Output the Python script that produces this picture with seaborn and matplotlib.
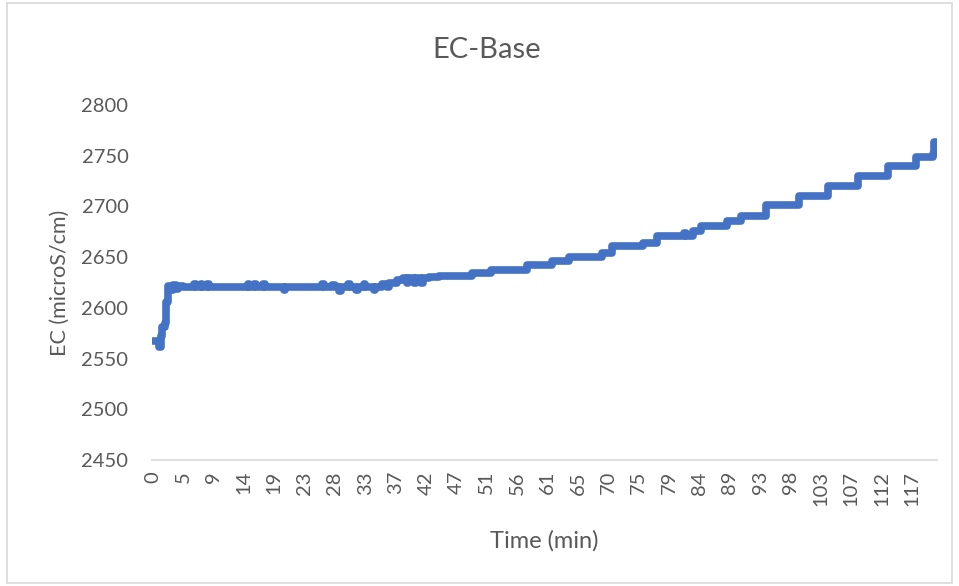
import matplotlib
matplotlib.use("Agg")
import matplotlib.pyplot as plt
import pandas as pd
import seaborn as sns
from matplotlib.patches import Rectangle

# EC logger record: time (min) at which each reading takes effect, held until the next one
time_min = [
    0.0, 0.9, 1.3, 1.5, 1.9, 2.1, 2.4, 2.8, 3.1, 3.6, 3.9, 4.6,
    6.4, 6.6, 7.4, 7.6, 8.4, 8.6, 14.6, 14.8, 15.6, 15.9, 17.0, 17.3,
    20.2, 20.4, 26.0, 26.3, 27.5, 28.0, 28.6, 28.9, 30.0, 30.3, 31.3, 31.5,
    32.5, 32.7, 34.0, 34.2, 35.2, 36.0, 36.3, 37.6, 38.4, 39.0, 39.3, 40.2,
    40.5, 41.3, 41.5, 42.5, 44.0, 49.0, 52.0, 57.5, 61.4, 64.0, 69.0, 70.6,
    75.4, 77.5, 81.6, 82.0, 83.0, 84.3, 88.2, 90.4, 94.2, 99.3, 103.8, 108.4,
    113.0, 117.2, 119.9, 120.1, 120.3, 120.4,
]
ec_us_cm = [
    2567, 2561, 2572, 2581, 2585, 2606, 2622, 2618, 2623, 2619, 2622, 2621,
    2624, 2621, 2624, 2621, 2624, 2621, 2624, 2621, 2624, 2621, 2624, 2621,
    2618, 2621, 2624, 2621, 2623, 2621, 2617, 2621, 2624, 2621, 2618, 2621,
    2624, 2621, 2618, 2621, 2624, 2621, 2625, 2627, 2629, 2625, 2629, 2625,
    2629, 2625, 2629, 2630, 2631, 2634, 2637, 2642, 2646, 2650, 2654, 2661,
    2664, 2671, 2674, 2671, 2676, 2681, 2686, 2691, 2701, 2710, 2720, 2730,
    2740, 2749, 2752, 2764, 2758, 2758,
]

# Category-axis labels: one every 28 samples (10 s sampling -> 14/3 min apart)
x_tick_labels = ["0", "5", "9", "14", "19", "23", "28", "33", "37", "42", "47",
                 "51", "56", "61", "65", "70", "75", "79", "84", "89", "93",
                 "98", "103", "107", "112", "117"]
label_step_min = 14 / 3
y_ticks = [2450, 2500, 2550, 2600, 2650, 2700, 2750, 2800]

df = pd.DataFrame({"Time (min)": time_min, "EC (microS/cm)": ec_us_cm})

sns.set_theme(style="white")
plt.rcParams["font.family"] = ["Lato", "DejaVu Sans"]

TEXT = "#595959"
LINE = "#4472C4"

W, H = 959, 586
AX_L, AX_R, AX_T, AX_B = 152, 937, 105, 460
fig = plt.figure(figsize=(W / 100, H / 100), dpi=100)
ax = fig.add_axes([AX_L / W, 1 - AX_B / H, (AX_R - AX_L) / W, (AX_B - AX_T) / H])

sns.lineplot(data=df, x="Time (min)", y="EC (microS/cm)", ax=ax,
             color=LINE, linewidth=5.5, estimator=None, sort=False,
             drawstyle="steps-post", solid_joinstyle="round",
             solid_capstyle="round")

ax.set_xlim(-0.1, 120.5)
ax.set_ylim(2450, 2800)
ax.set_yticks(y_ticks)
ax.set_yticklabels([str(v) for v in y_ticks])
ax.set_xticks([i * label_step_min for i in range(len(x_tick_labels))])
ax.set_xticklabels(x_tick_labels, rotation=90)

ax.tick_params(axis="y", length=0, pad=17, labelsize=14.5, labelcolor=TEXT)
ax.tick_params(axis="x", length=0, pad=8, labelsize=14.5, labelcolor=TEXT)

for side in ("left", "right", "top"):
    ax.spines[side].set_visible(False)
ax.spines["bottom"].set_color("#d9d9d9")
ax.spines["bottom"].set_linewidth(1.2)
ax.grid(False)

ax.set_xlabel("Time (min)", fontsize=17, color=TEXT, labelpad=17)
ax.set_ylabel("EC (microS/cm)", fontsize=15.5, color=TEXT)
# right edge of the rotated y label sits ~70 px from the figure's left edge
ax.yaxis.set_label_coords((70 - AX_L) / (AX_R - AX_L), 0.5)

fig.text(487 / W, 1 - 50 / H, "EC-Base", ha="center", va="center",
         fontsize=21, color=TEXT)

fig.patches.append(Rectangle((7 / W, 3 / H), (952 - 7) / W, (583 - 3) / H,
                             transform=fig.transFigure, fill=False,
                             edgecolor="#d9d9d9", linewidth=1.2))

fig.savefig("out.png", dpi=100)
